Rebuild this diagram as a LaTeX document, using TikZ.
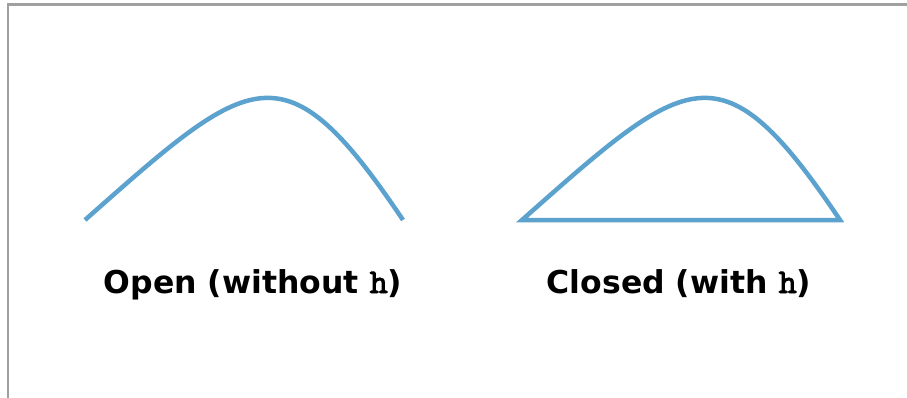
\documentclass[tikz,border=0pt]{standalone}
\usepackage{fontspec}
\setmainfont{DejaVu Sans}
\newfontfamily\codefont{lmmono10-regular}[Extension=.otf, FakeBold=2.5, Scale=1.1]
\usepackage{tikz}
\usetikzlibrary{positioning}
\definecolor{curveblue}{RGB}{92,162,206}
\definecolor{framegray}{RGB}{160,160,160}

\begin{document}
\begin{tikzpicture}[
  x=1pt, y=-1pt,
  arcline/.style={draw=curveblue, line width=4.5pt},
  caption/.style={anchor=base, inner sep=0pt, font=\fontsize{31.5}{36}\selectfont\bfseries}
]
\useasboundingbox (0,0) rectangle (907,398);
% frame
\draw[framegray, line width=2.5pt] (8,398) -- (8,4.3) -- (907,4.3);
% open arc
\coordinate (o1) at (85,220);
\coordinate (o2) at (403,220);
\draw[arcline] (o1) .. controls (252,72) and (284,43) .. (o2);
% closed arc
\coordinate (c1) at (522,220);
\coordinate (c2) at (840,220);
\draw[arcline] (c1) .. controls (689,72) and (721,43) .. (c2) -- cycle;
% labels
\node[caption] (openlbl) at (253,293) {Open (without {\codefont h})};
\node[caption] (closedlbl) at (679,293) {Closed (with {\codefont h})};
\end{tikzpicture}
\end{document}
